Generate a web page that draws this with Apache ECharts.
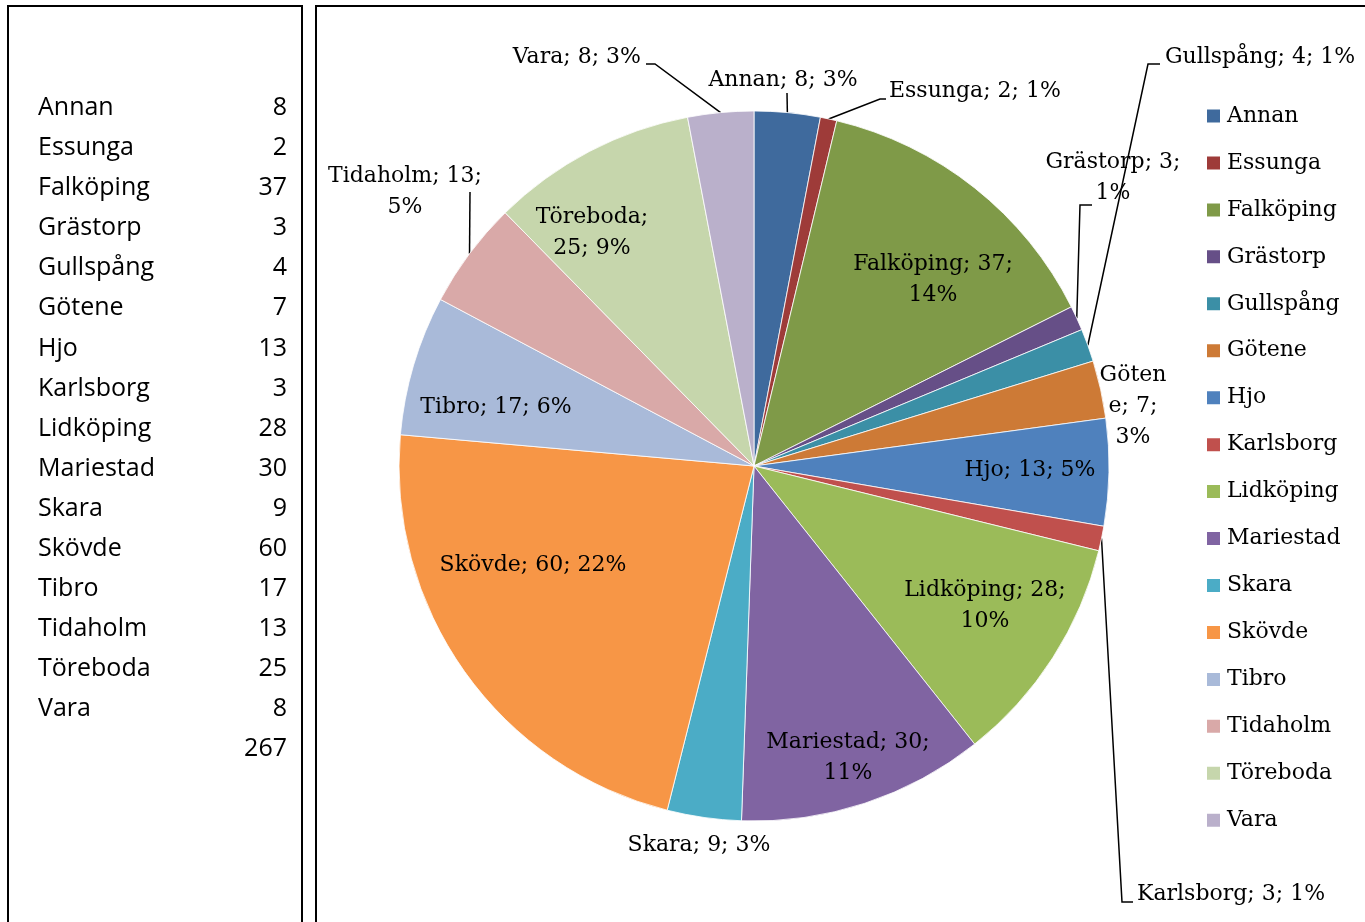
<!DOCTYPE html>
<html><head><meta charset="utf-8">
<script src="https://cdn.jsdelivr.net/npm/echarts@6/dist/echarts.min.js"></script>
<style>html,body{margin:0;padding:0;background:#fff}#c{width:1365px;height:922px}</style>
</head><body><div id="c"></div>
<script>
// ---- data ----
const categories = ['Annan','Essunga','Falköping','Grästorp','Gullspång','Götene','Hjo','Karlsborg','Lidköping','Mariestad','Skara','Skövde','Tibro','Tidaholm','Töreboda','Vara'];
const values = [8,2,37,3,4,7,13,3,28,30,9,60,17,13,25,8];

// ---- styles / layout (not data) ----
const colors = ['#3F6A9D','#9E3B39','#7F9A48','#664F87','#3B8FA6','#CD7A36','#4F81BD','#C0504D','#9BBB59','#8064A2','#4BACC6','#F79646','#A9BAD9','#D9A9A8','#C6D6AC','#BAB0CB'];
// label wrap mode: 0 one line, 1 "name; v;\np%", 2 "name;\nv; p%", 3 name split after 5 chars
const labelWrap = {Falköping:1, Grästorp:1, Götene:3, Lidköping:1, Mariestad:1, Tidaholm:1, Töreboda:2};
// where Excel placed each label; bend = leader line points after the slice edge
const labelPlace = {
  'Annan':     {x:783,  y:80,  align:'center', bend:[[787,93],[787,93]]},
  'Essunga':   {x:889,  y:91,  align:'left',   bend:[[880,99],[886,99]]},
  'Falköping': {x:933,  y:280, align:'center'},
  'Grästorp':  {x:1113, y:178, align:'center', bend:[[1080,205],[1092,205]]},
  'Gullspång': {x:1165, y:57,  align:'left',   bend:[[1148,64],[1160,64]]},
  'Götene':    {x:1133, y:406, align:'center', outside:true},
  'Hjo':       {x:1030, y:470, align:'center'},
  'Karlsborg': {x:1137, y:894, align:'left',   bend:[[1122,902],[1133,902]]},
  'Lidköping': {x:985,  y:606, align:'center'},
  'Mariestad': {x:848,  y:758, align:'center'},
  'Skara':     {x:699,  y:845, align:'center', outside:true},
  'Skövde':    {x:533,  y:565, align:'center'},
  'Tibro':     {x:496,  y:407, align:'center'},
  'Tidaholm':  {x:405,  y:192, align:'center', bend:[[470,192],[470,192]]},
  'Töreboda':  {x:592,  y:233, align:'center'},
  'Vara':      {x:641,  y:57,  align:'right',  bend:[[655,64],[646,64]]}
};

const total = values.reduce((a,b)=>a+b,0);
const serif = '"DejaVu Serif", serif';
const sans = '"Open Sans", sans-serif';

const pieData = categories.map((n,i)=>{
  const pl = labelPlace[n];
  const out = !!(pl.bend || pl.outside);
  return {
    name:n, value:values[i],
    itemStyle:{color:colors[i]},
    label:{position: out ? 'outside' : 'inside'},
    labelLine:{show: !!pl.bend}
  };
});

function labelText(p){
  const n = p.name, v = p.value, pc = Math.round(v/total*100);
  const m = labelWrap[n] || 0;
  if (m===1) return n+'; '+v+';\n'+pc+'%';
  if (m===2) return n+';\n'+v+'; '+pc+'%';
  if (m===3) return n.slice(0,5)+'\n'+n.slice(5)+'; '+v+';\n'+pc+'%';
  return n+'; '+v+'; '+pc+'%';
}

// left table + frames
const graphics = [
  {type:'rect', shape:{x:8,y:6,width:294,height:960}, style:{fill:'none',stroke:'#000',lineWidth:2}, z:0},
  {type:'rect', shape:{x:316,y:6,width:1100,height:960}, style:{fill:'none',stroke:'#000',lineWidth:2}, z:0}
];
const rowTop = 108, rowStep = 40.07;
const tFont = '25px '+sans;
categories.forEach((n,i)=>{
  graphics.push({type:'text', x:38, y:rowTop+i*rowStep,
    style:{text:n, font:tFont, fill:'#000', align:'left', verticalAlign:'middle', textAlign:'left', textVerticalAlign:'middle'}});
  graphics.push({type:'text', x:287, y:rowTop+i*rowStep,
    style:{text:String(values[i]), font:tFont, fill:'#000', align:'right', verticalAlign:'middle', textAlign:'right', textVerticalAlign:'middle'}});
});
graphics.push({type:'text', x:287, y:rowTop+categories.length*rowStep,
  style:{text:String(total), font:tFont, fill:'#000', align:'right', verticalAlign:'middle', textAlign:'right', textVerticalAlign:'middle'}});

const chart = echarts.init(document.getElementById('c'), null, {renderer:'canvas'});
chart.setOption({
  backgroundColor:'#fff',
  animation:false,
  graphic:{elements:graphics},
  legend:{
    orient:'vertical', left:1205, top:104, padding:0,
    itemWidth:15, itemHeight:15, itemGap:22.95,
    icon:'rect',
    data:categories,
    textStyle:{fontFamily:serif, fontSize:22, color:'#000', lineHeight:24, padding:[0,0,0,1]}
  },
  series:[{
    type:'pie',
    center:[754,466], radius:355,
    startAngle:90, clockwise:true,
    avoidLabelOverlap:false,
    itemStyle:{borderColor:'#fff', borderWidth:0.8},
    label:{show:true, color:'#000', fontFamily:serif, fontSize:22, lineHeight:31, formatter:labelText},
    labelLine:{lineStyle:{color:'#000', width:1.5}, smooth:false, length:10, length2:10},
    emphasis:{disabled:true},
    labelLayout:function(p){
      const c = labelPlace[categories[p.dataIndex]];
      const o = {x:c.x, y:c.y, align:c.align, verticalAlign:'middle'};
      if (c.bend && p.labelLinePoints) {
        o.labelLinePoints = [p.labelLinePoints[0].slice(), c.bend[0], c.bend[1]];
      }
      return o;
    },
    data:pieData
  }]
});
</script>
</body></html>
